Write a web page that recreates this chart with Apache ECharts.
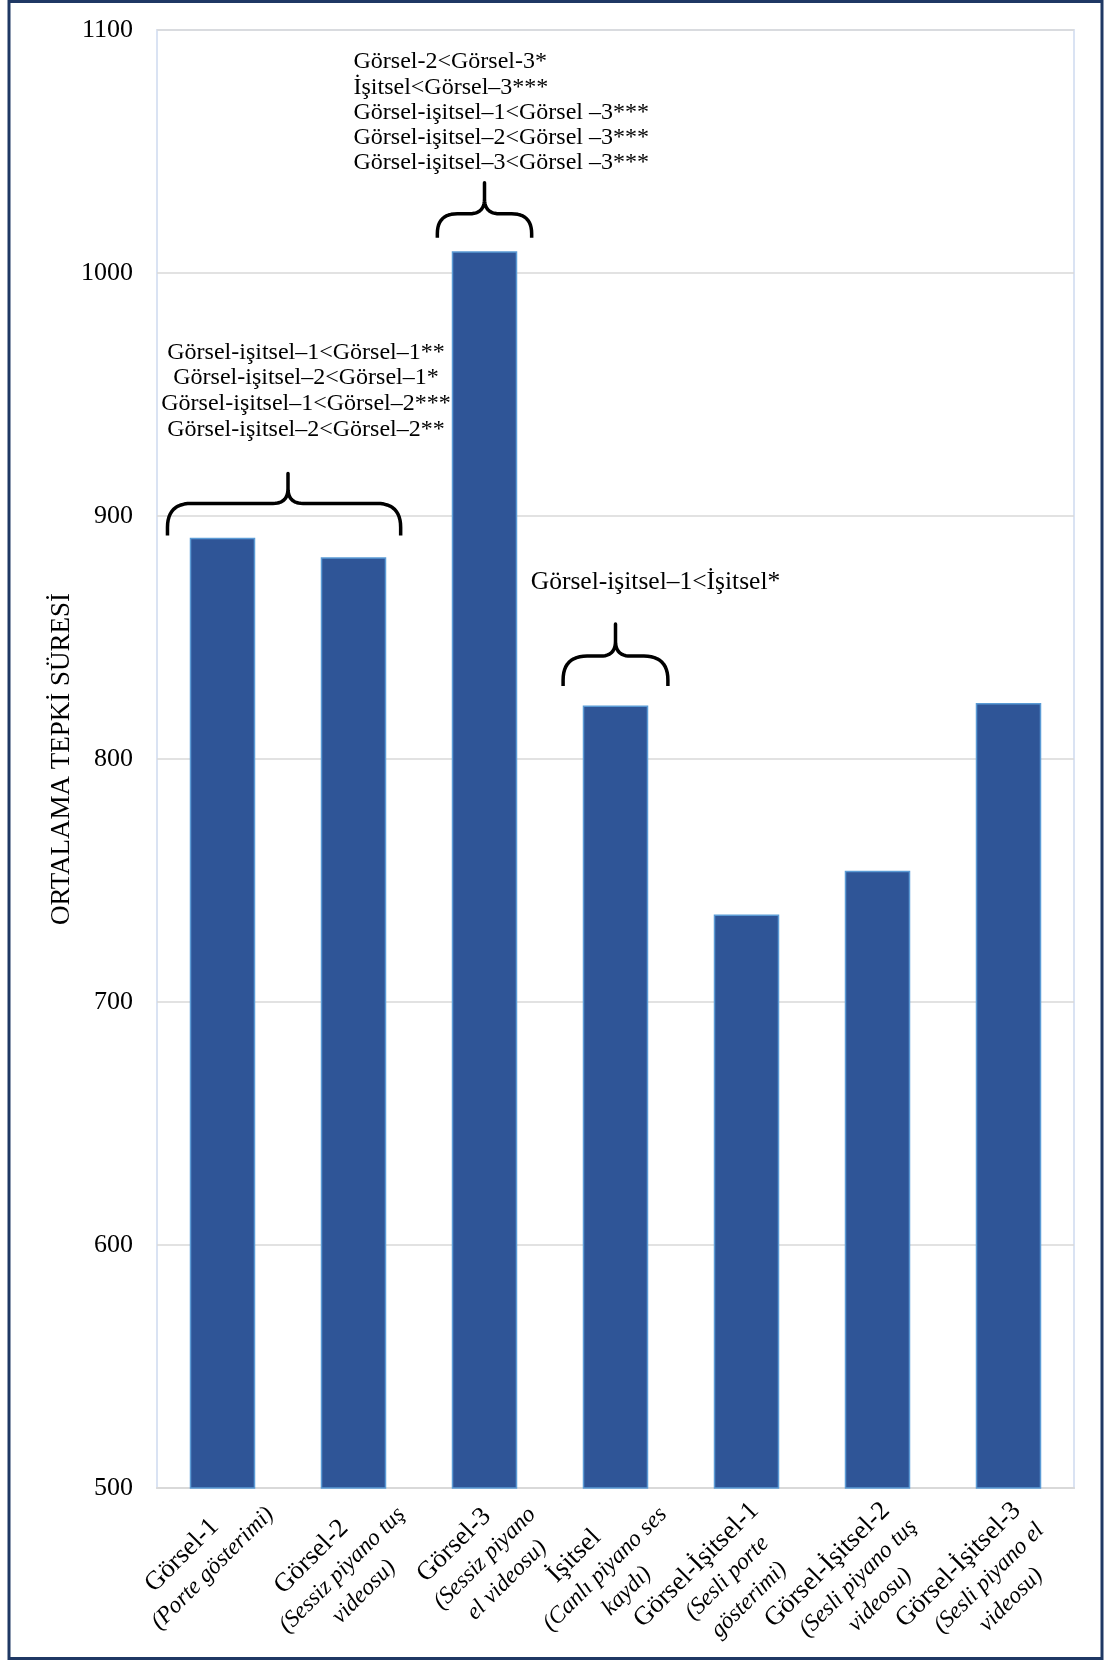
<!DOCTYPE html>
<html><head><meta charset="utf-8">
<script src="https://cdn.jsdelivr.net/npm/echarts@6/dist/echarts.min.js"></script>
<style>html,body{margin:0;padding:0;background:#fff}#c{width:1109px;height:1661px}</style>
</head><body><div id="c"></div>
<script>
const categories = ['Görsel-1', 'Görsel-2', 'Görsel-3', 'İşitsel', 'Görsel-İşitsel-1', 'Görsel-İşitsel-2', 'Görsel-İşitsel-3'];
const subLabels = [
  ['(Porte gösterimi)'],
  ['(Sessiz piyano tuş', 'videosu)'],
  ['(Sessiz piyano', 'el videosu)'],
  ['(Canlı piyano ses', 'kaydı)'],
  ['(Sesli porte', 'gösterimi)'],
  ['(Sesli piyano tuş', 'videosu)'],
  ['(Sesli piyano el', 'videosu)']
];
const values = [891, 883, 1009, 822, 736, 754, 823];
const yMin = 500, yMax = 1100, yInterval = 100;
const yAxisTitle = 'ORTALAMA TEPKİ SÜRESİ';
const note1 = ['Görsel-işitsel–1<Görsel–1**', 'Görsel-işitsel–2<Görsel–1*', 'Görsel-işitsel–1<Görsel–2***', 'Görsel-işitsel–2<Görsel–2**'];
const note2 = ['Görsel-2<Görsel-3*', 'İşitsel<Görsel–3***', 'Görsel-işitsel–1<Görsel –3***', 'Görsel-işitsel–2<Görsel –3***', 'Görsel-işitsel–3<Görsel –3***'];
const note3 = ['Görsel-işitsel–1<İşitsel*'];

const FONT = 'Liberation Serif';
const chart = echarts.init(document.getElementById('c'), null, {renderer: 'canvas'});

chart.setOption({
  animation: false,
  backgroundColor: '#fff',
  grid: {left: 157, right: 35, top: 30, bottom: 173, outerBoundsMode: 'none', containLabel: false,
    show: true, borderColor: '#dae3f3', borderWidth: 2, backgroundColor: 'transparent'},
  xAxis: {
    type: 'category',
    data: categories,
    axisTick: {show: false},
    axisLine: {lineStyle: {color: '#d9d9d9', width: 2}},
    axisLabel: {
      interval: 0, rotate: 45, margin: 5, hideOverlap: false,
      align: 'right', verticalAlign: 'top',
      padding: [0, -21, 0, 0],
      color: '#000',
      formatter: (v, i) => '{a|' + v + '}\n' + subLabels[i].map(s => '{b|' + s + '}').join('\n'),
      rich: {
        a: {fontFamily: FONT, fontSize: 26.5, color: '#000', align: 'center', lineHeight: 31, padding: [0, 25, 0, 0]},
        b: {fontFamily: FONT, fontSize: 23.5, fontStyle: 'italic', color: '#000', align: 'center', lineHeight: 31}
      }
    }
  },
  yAxis: {
    type: 'value', min: yMin, max: yMax, interval: yInterval,
    name: yAxisTitle, nameLocation: 'middle', nameGap: 82, nameRotate: 90, nameMoveOverlap: false,
    nameTextStyle: {fontFamily: FONT, fontSize: 27, color: '#000'},
    axisLine: {show: false}, axisTick: {show: false},
    axisLabel: {fontFamily: FONT, fontSize: 26, color: '#000', margin: 24, formatter: v => String(v)},
    splitLine: {lineStyle: {color: '#d9d9d9', width: 1.5}}
  },
  series: [{
    type: 'bar', data: values, barWidth: '50%',
    itemStyle: {color: '#2f5597', borderColor: '#5b9bd5', borderWidth: 1.5}
  }]
});

function px(i, v) { return chart.convertToPixel({seriesIndex: 0}, [i, v]); }
const p0 = px(0, yMin), p1 = px(1, yMin);
const bw = p1[0] - p0[0];
function xAt(idx) { return p0[0] + idx * bw; }
function yAt(v) { return px(0, v)[1]; }

function quad(pts, a, c, b) {
  for (let k = 1; k <= 12; k++) {
    const t = k / 12, u = 1 - t;
    pts.push([u * u * a[0] + 2 * u * t * c[0] + t * t * b[0], u * u * a[1] + 2 * u * t * c[1] + t * t * b[1]]);
  }
}
function bracePoints(xl, xr, xc, yb, yh, yp) {
  const re = Math.min(24, yb - yh - 4), rc = 15;
  const pts = [[xl, yb], [xl, yh + re]];
  quad(pts, [xl, yh + re], [xl, yh], [xl + re, yh]);
  pts.push([xc - rc, yh]);
  quad(pts, [xc - rc, yh], [xc, yh], [xc, yh - rc]);
  pts.push([xc, yp]);
  pts.push([xc, yh - rc]);
  quad(pts, [xc, yh - rc], [xc, yh], [xc + rc, yh]);
  pts.push([xr - re, yh]);
  quad(pts, [xr - re, yh], [xr, yh], [xr, yh + re]);
  pts.push([xr, yb]);
  return pts;
}

const braces = [
  {l: -0.42, r: 1.36, c: 0.5, bottomVal: Math.max(values[0], values[1]) + 1, hh: 32, hp: 62},
  {l: 1.64, r: 2.36, c: 2.0, bottomVal: values[2] + 5.5, hh: 24, hp: 55},
  {l: 2.6, r: 3.4, c: 3.0, bottomVal: values[3] + 8, hh: 30, hp: 62}
];
const graphics = [];
const braceGeo = braces.map(b => {
  const yb = yAt(b.bottomVal);
  const xl = xAt(b.l), xr = xAt(b.r), xc = xAt(b.c);
  const yh = yb - b.hh, yp = yb - b.hp;
  graphics.push({type: 'polyline', shape: {points: bracePoints(xl, xr, xc, yb, yh, yp)},
    style: {stroke: '#000', lineWidth: 3.5, fill: null, lineJoin: 'round'}, z: 10});
  return {xl, xr, xc, yb, yh, yp};
});
function noteStyle(lines, x, y, align, size, lh) {
  return {text: lines.join('\n'), x: x, y: y, fontFamily: FONT, fontSize: size, fill: '#000',
    textAlign: align, textVerticalAlign: 'bottom', lineHeight: lh};
}
graphics.push({type: 'text', z: 10, style: noteStyle(note1, braceGeo[0].xc + 18, braceGeo[0].yp - 31, 'center', 24, 25.7)});
graphics.push({type: 'text', z: 10, style: noteStyle(note2, braceGeo[1].xc - 131, braceGeo[1].yp - 7, 'left', 24, 25.3)});
graphics.push({type: 'text', z: 10, style: noteStyle(note3, braceGeo[2].xc + 40, braceGeo[2].yp - 28, 'center', 25.5, 27)});
graphics.push({type: 'rect', shape: {x: 9, y: 1.5, width: 1093, height: 1657},
  style: {stroke: '#1f3864', lineWidth: 3, fill: null}, z: 20});
chart.setOption({graphic: graphics});
</script>
</body></html>
